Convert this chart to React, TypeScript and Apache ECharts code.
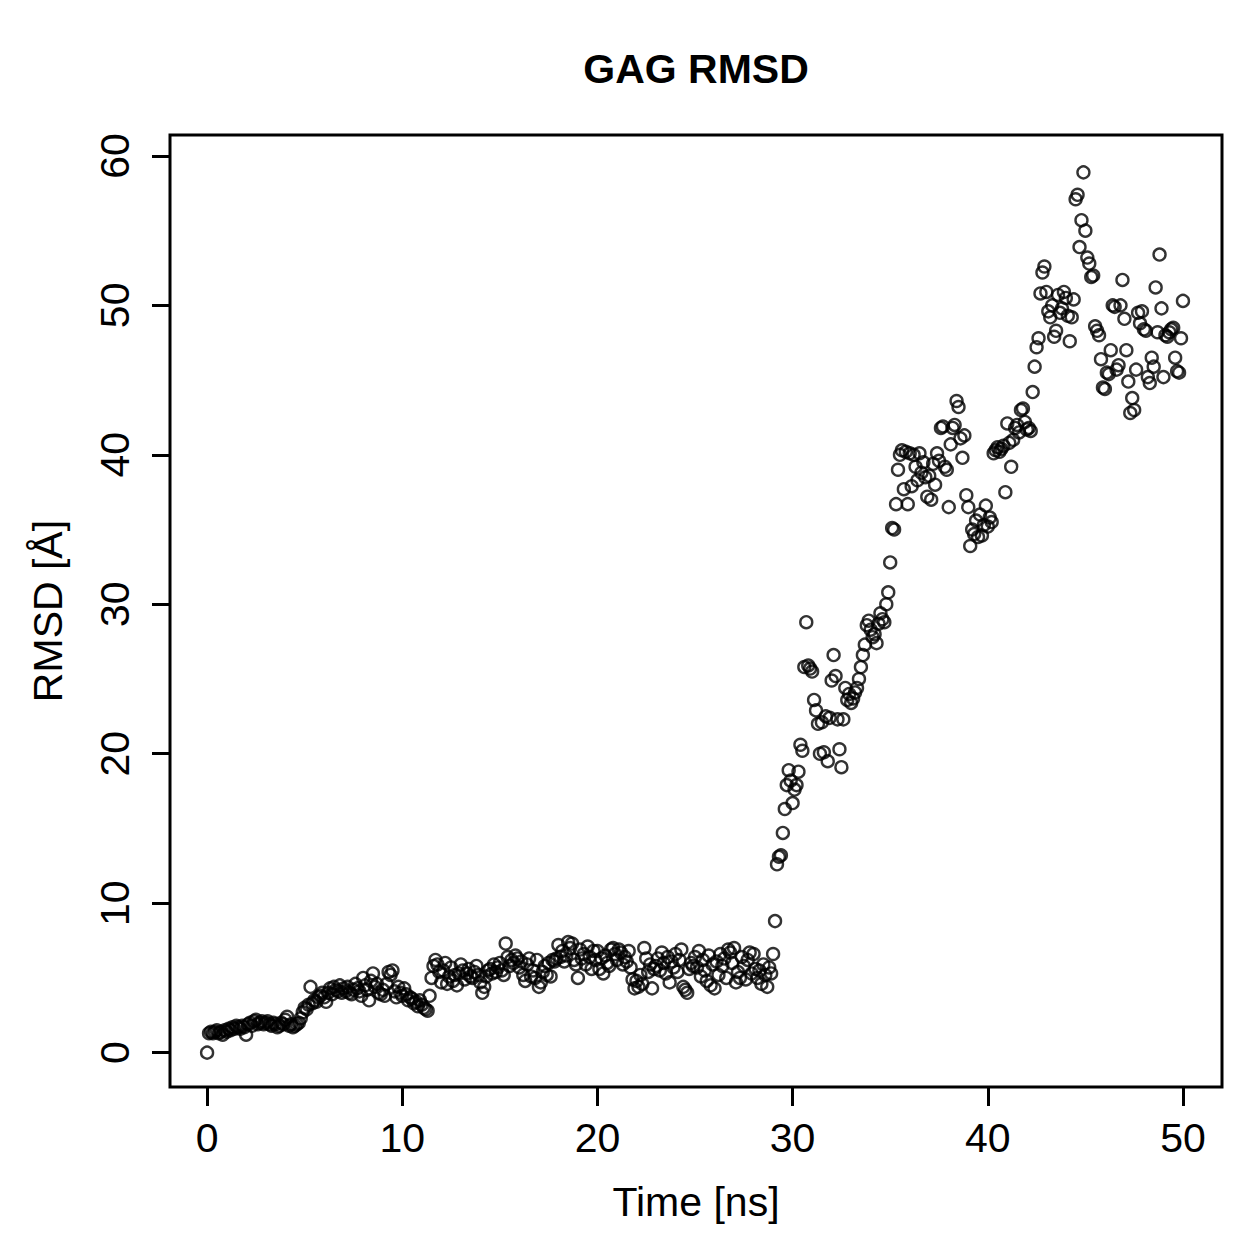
import React, { useEffect, useRef } from "react";
import * as echarts from "echarts";

// Sampling interval of the trajectory frames (ns)
const TIME_STEP_NS = 0.1;

// RMSD (Å) per frame, in blocks of 10 ns
const rmsd0to10 = [
  0.0, 1.3, 1.4, 1.3, 1.4, 1.5, 1.3, 1.4, 1.2, 1.5,
  1.4, 1.6, 1.5, 1.7, 1.6, 1.8, 1.7, 1.6, 1.8, 1.7,
  1.2, 1.9, 2.0, 1.8, 2.1, 2.2, 1.9, 2.0, 2.1, 1.9,
  2.0, 2.1, 1.9, 1.8, 2.0, 1.9, 1.7, 1.8, 2.0, 1.9,
  2.2, 2.4, 1.8, 1.9, 1.7, 1.8, 1.9, 2.0, 2.3, 2.7,
  3.0, 2.9, 3.2, 4.4, 3.3, 3.5, 3.4, 3.7, 3.8, 4.0,
  3.7, 3.4, 4.0, 4.3, 3.9, 4.4, 4.2, 4.1, 4.5, 4.0,
  4.3, 4.1, 4.4, 4.0, 3.9, 4.2, 4.6, 4.3, 4.1, 3.8,
  5.0, 4.5, 4.2, 3.5, 4.8, 5.3, 4.4, 4.6, 4.0, 3.9,
  4.2, 3.8, 4.6, 5.4, 5.2, 5.5, 4.1, 3.7, 4.4, 4.0,
];
const rmsd10to20 = [
  3.8, 4.3, 3.9, 3.5, 3.7, 3.6, 3.3, 3.4, 3.1, 3.5,
  3.2, 3.0, 2.9, 2.8, 3.8, 5.0, 5.8, 6.2, 5.9, 5.4,
  4.7, 5.5, 6.0, 4.6, 5.1, 5.7, 4.8, 5.2, 4.5, 5.3,
  5.9, 5.5, 4.9, 5.3, 5.6, 5.1, 5.0, 5.4, 5.8, 5.2,
  4.7, 4.0, 4.4, 5.1, 5.5, 5.6, 5.3, 5.9, 5.4, 5.7,
  6.0, 5.5, 5.2, 7.3, 6.4, 5.8, 6.2, 6.0, 6.5, 6.3,
  5.7, 6.1, 5.2, 4.8, 5.9, 6.3, 5.1, 5.5, 5.0, 6.2,
  4.4, 4.7, 5.4, 5.8, 5.2, 6.0, 5.1, 6.2, 6.1, 6.3,
  7.2, 6.4, 6.8, 6.1, 6.5, 7.4, 7.0, 7.3, 6.2, 5.9,
  5.0, 6.9, 6.3, 6.6, 5.9, 7.1, 6.4, 5.6, 6.8, 6.2,
];
const rmsd20to30 = [
  6.8, 5.6, 6.3, 5.3, 6.5, 6.0, 5.8, 6.9, 7.0, 6.6,
  6.2, 6.9, 6.7, 5.9, 6.4, 6.1, 6.8, 5.7, 4.9, 4.3,
  4.8, 4.4, 5.2, 4.6, 7.0, 6.3, 5.4, 5.9, 4.3, 5.6,
  5.8, 6.3, 5.5, 6.7, 6.0, 5.3, 6.4, 4.7, 6.1, 5.7,
  6.6, 5.4, 6.2, 6.9, 4.4, 4.2, 4.0, 5.6, 6.0, 5.8,
  6.4, 5.7, 6.8, 5.1, 6.2, 5.5, 4.8, 6.5, 4.5, 5.9,
  4.3, 6.1, 5.2, 6.6, 5.8, 6.3, 5.0, 6.9, 6.7, 6.0,
  7.0, 4.7, 5.4, 5.0, 6.4, 5.8, 4.9, 6.2, 6.7, 5.3,
  6.6, 5.6, 5.0, 5.5, 4.6, 5.9, 5.2, 4.4, 5.7, 5.3,
  6.6, 8.8, 12.6, 13.1, 13.2, 14.7, 16.3, 17.9, 18.9, 18.2,
];
const rmsd30to40 = [
  16.7, 17.6, 17.9, 18.8, 20.6, 20.2, 25.8, 28.8, 25.9, 25.7,
  25.5, 23.6, 22.9, 22.0, 20.0, 22.1, 20.1, 22.5, 19.5, 22.4,
  24.9, 26.6, 25.2, 22.3, 20.3, 19.1, 22.3, 24.4, 23.6, 24.0,
  23.4, 23.7, 24.1, 24.4, 25.0, 25.8, 26.6, 27.3, 28.6, 28.9,
  28.3, 27.8, 28.0, 27.4, 28.7, 29.4, 29.0, 28.8, 30.0, 30.8,
  32.8, 35.1, 35.0, 36.7, 39.0, 40.0, 40.3, 37.7, 40.2, 36.7,
  40.1, 37.9, 40.0, 39.2, 38.3, 40.1, 38.8, 39.5, 38.5, 37.2,
  38.6, 37.0, 39.4, 38.0, 40.1, 39.6, 41.8, 41.9, 39.2, 39.0,
  36.5, 40.7, 41.8, 42.0, 43.6, 43.2, 41.1, 39.8, 41.3, 37.3,
  36.5, 33.9, 35.0, 34.7, 35.6, 34.5, 36.0, 34.6, 35.3, 36.6,
];
const rmsd40to50 = [
  35.2, 35.8, 35.5, 40.1, 40.3, 40.5, 40.2, 40.4, 40.6, 37.5,
  42.1, 40.8, 39.2, 41.0, 41.8, 42.0, 41.5, 43.0, 43.1, 42.2,
  41.7, 41.8, 41.6, 44.2, 45.9, 47.2, 47.8, 50.8, 52.2, 52.6,
  50.9, 49.6, 49.2, 50.0, 47.9, 48.3, 50.7, 49.5, 49.8, 50.9,
  50.5, 49.3, 47.6, 49.2, 50.4, 57.1, 57.4, 53.9, 55.7, 58.9,
  55.0, 53.2, 52.8, 51.9, 52.0, 48.6, 48.3, 48.0, 46.4, 44.5,
  44.4, 45.5, 45.4, 47.0, 50.0, 49.9, 45.7, 46.0, 50.0, 51.7,
  49.1, 47.0, 44.9, 42.8, 43.8, 43.0, 45.7, 49.5, 48.8, 49.6,
  48.4, 48.3, 45.2, 44.8, 46.5, 45.9, 51.2, 48.2, 53.4, 49.8,
  45.2, 48.0, 47.9, 48.2, 48.4, 48.5, 46.5, 45.6, 45.5, 47.8,
  50.3,
];

const xTickValues = [0, 10, 20, 30, 40, 50];
const yTickValues = [0, 10, 20, 30, 40, 50, 60];

const FONT = '"Liberation Sans", Arial, Helvetica, sans-serif';

export default function App() {
  const ref = useRef<HTMLDivElement>(null);

  useEffect(() => {
    if (!ref.current) return;
    const chart = echarts.init(ref.current, null, { renderer: "svg" });

    const rmsd = [
      ...rmsd0to10,
      ...rmsd10to20,
      ...rmsd20to30,
      ...rmsd30to40,
      ...rmsd40to50,
    ];
    const points = rmsd.map((v, i) => [Number((i * TIME_STEP_NS).toFixed(1)), v]);

    chart.setOption({
      animation: false,
      backgroundColor: "#ffffff",
      textStyle: { fontFamily: FONT, color: "#000" },
      grid: {
        left: 170,
        top: 135,
        width: 1052,
        height: 952,
        show: true,
        borderColor: "#000",
        borderWidth: 3,
        backgroundColor: "transparent",
      },
      graphic: [
        {
          type: "text",
          x: 696,
          y: 69,
          style: {
            text: "GAG RMSD",
            font: `bold 41px ${FONT}`,
            fill: "#000",
            textAlign: "center",
            textVerticalAlign: "middle",
          },
        },
      ],
      xAxis: {
        type: "value",
        min: -1.9,
        max: 52,
        splitLine: { show: false },
        axisLine: { show: false, onZero: false },
        axisTick: {
          show: true,
          length: 19,
          lineStyle: { color: "#000", width: 3 },
          customValues: xTickValues,
        },
        axisLabel: {
          customValues: xTickValues,
          margin: 51,
          verticalAlign: "middle",
          fontSize: 41,
          fontFamily: FONT,
          color: "#000",
        },
        name: "Time [ns]",
        nameLocation: "middle",
        nameGap: 115,
        nameTextStyle: {
          fontSize: 41,
          fontFamily: FONT,
          color: "#000",
          verticalAlign: "middle",
        },
      },
      yAxis: {
        type: "value",
        min: -2.3,
        max: 61.4,
        splitLine: { show: false },
        axisLine: { show: false, onZero: false },
        axisTick: {
          show: true,
          length: 18,
          lineStyle: { color: "#000", width: 3 },
          customValues: yTickValues,
        },
        axisLabel: {
          customValues: yTickValues,
          rotate: 90,
          margin: 55,
          align: "center",
          verticalAlign: "middle",
          fontSize: 41,
          fontFamily: FONT,
          color: "#000",
        },
        name: "RMSD [Å]",
        nameLocation: "middle",
        nameRotate: 90,
        nameGap: 122,
        nameTextStyle: {
          fontSize: 41,
          fontFamily: FONT,
          color: "#000",
          align: "center",
          verticalAlign: "middle",
        },
      },
      series: [
        {
          type: "scatter",
          data: points,
          symbol: "circle",
          symbolSize: 12,
          itemStyle: {
            color: "rgba(0,0,0,0)",
            borderColor: "#000",
            borderWidth: 2.4,
          },
          emphasis: { disabled: true },
        },
      ],
    });

    return () => chart.dispose();
  }, []);

  return (
    <div
      ref={ref}
      style={{
        position: "fixed",
        left: 0,
        top: 0,
        width: 1259,
        height: 1259,
        background: "#fff",
      }}
    />
  );
}
